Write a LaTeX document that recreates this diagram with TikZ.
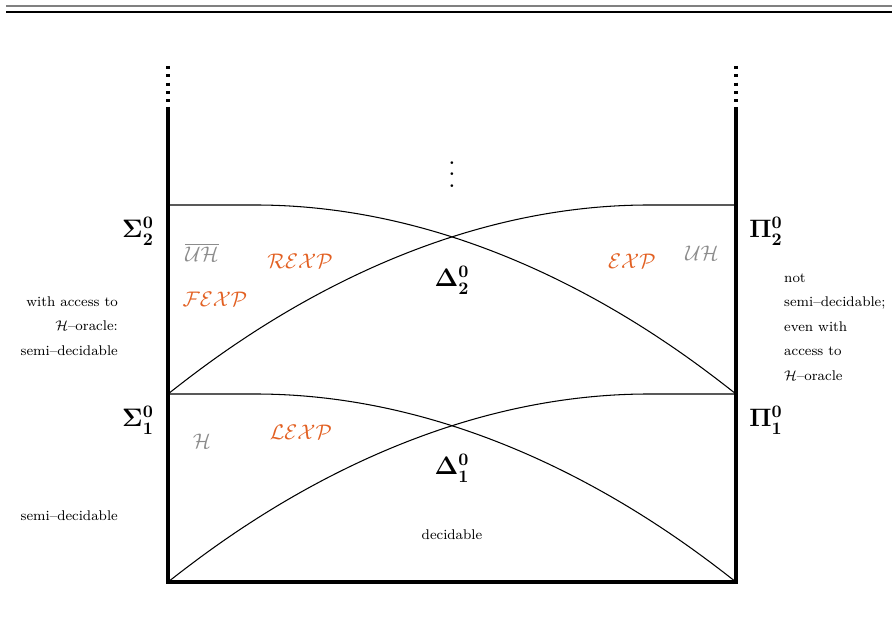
\documentclass[tikz,border=0pt]{standalone}
\usepackage{amsmath, amssymb}
\usepackage{tikz}
\definecolor{expred}{RGB}{226,96,34}
\definecolor{hgray}{RGB}{140,140,140}

\begin{document}
\begin{tikzpicture}[x=0.02cm, y=-0.02cm, every node/.style={font=\small},
  wall/.style={line width=2pt, line join=miter},
  rim/.style={line width=0.6pt},
  cls/.style={font=\Large},
  lang/.style={font=\large, text=expred},
  prob/.style={font=\large, text=hgray},
  note/.style={font=\footnotesize}]
  \useasboundingbox (0,0) rectangle (892,644);
  \draw[line width=1.2pt, black!50] (6,6) -- (892,6);
  \draw[line width=0.8pt] (6,12) -- (892,12);

  \coordinate (ltop) at (168,107);
  \coordinate (rtop) at (736,107);
  \coordinate (lbot) at (168,582);
  \coordinate (rbot) at (736,582);
  \draw[wall] (ltop) -- (lbot) -- (rbot) -- (rtop);
  \draw[wall, dash pattern=on 1.8pt off 2.9pt] (168,66) -- (ltop);
  \draw[wall, dash pattern=on 1.8pt off 2.9pt] (736,66) -- (rtop);

  \draw[rim] (168,205) -- (255,205) parabola (736,394);
  \draw[rim] (168,394) parabola[bend at end] (649,205) -- (736,205);
  \draw[rim] (168,394) -- (255,394) parabola (736,582);
  \draw[rim] (lbot) parabola[bend at end] (649,394) -- (736,394);

  \node (more) at (452,166) {\scalebox{1.6}{$\vdots$}};
  \node[cls] (s2) at (138,231) {$\boldsymbol{\Sigma^0_2}$};
  \node[cls] (p2) at (766,231) {$\boldsymbol{\Pi^0_2}$};
  \node[cls] (s1) at (138,420) {$\boldsymbol{\Sigma^0_1}$};
  \node[cls] (p1) at (766,420) {$\boldsymbol{\Pi^0_1}$};
  \node[cls] (d2) at (452,280) {$\boldsymbol{\Delta^0_2}$};
  \node[cls] (d1) at (452,468) {$\boldsymbol{\Delta^0_1}$};

  \node[prob] (nuh) at (202,252) {$\overline{\mathcal{UH}}$};
  \node[prob] (uh) at (702,253) {$\mathcal{UH}$};
  \node[prob] (h) at (202,441) {$\mathcal{H}$};
  \node[lang] (rexp) at (300,261) {$\mathcal{REXP}$};
  \node[lang] (fexp) at (215,299) {$\mathcal{FEXP}$};
  \node[lang] (exp) at (632,261) {$\mathcal{EXP}$};
  \node[lang] (lexp) at (301,432) {$\mathcal{LEXP}$};

  \node[note, align=right, anchor=east] (oracle) at (124,326) {with access to\\[4.5pt] $\mathcal{H}$--oracle:\\[4.5pt] semi--decidable};
  \node[note, anchor=east] (semi) at (124,516) {semi--decidable};
  \node[note, align=left, anchor=west] (notsemi) at (778,327) {not\\[4.5pt] semi--decidable;\\[4.5pt] even with\\[4.5pt] access to\\[4.5pt] $\mathcal{H}$--oracle};
  \node[note] (dec) at (452,535) {decidable};
\end{tikzpicture}
\end{document}
